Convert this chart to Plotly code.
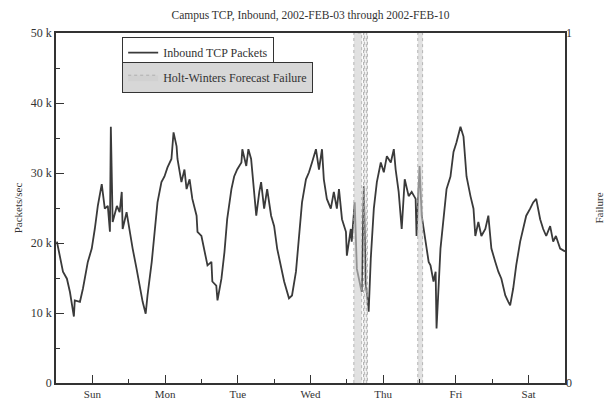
import pandas as pd
import plotly.graph_objects as go

# hours since 2002-02-03 00:00 and inbound TCP packets/sec (thousands)
hours = [0.3, 1.3, 2.3, 3.6, 4.6, 5.9, 6.2, 7.9, 8.9, 10.5, 11.8, 12.8, 13.8, 15.1, 16.1, 17.1,
         17.8, 18.1, 18.7, 20.1, 21.0, 21.7, 22.0, 23.3, 24.3, 25.3, 26.6, 27.6, 28.6, 29.6,
         30.2, 31.6, 32.5, 33.5, 34.8, 35.8, 36.8, 38.1, 38.8, 39.8, 40.1, 41.4, 42.4, 43.1,
         44.1, 45.0, 46.4, 46.7, 48.0, 49.0, 50.0, 51.3, 51.6, 52.9, 53.3, 54.6, 55.6, 56.5,
         57.9, 58.8, 59.8, 61.2, 61.5, 62.8, 63.5, 64.4, 65.4, 66.1, 67.1, 67.7, 68.7, 69.7,
         71.0, 72.0, 73.0, 74.3, 75.3, 76.9, 77.9, 79.2, 80.2, 81.2, 82.5, 83.5, 84.5, 85.8,
         86.8, 87.8, 88.4, 89.4, 90.7, 91.7, 92.7, 93.4, 94.4, 95.7, 96.0, 97.3, 97.6, 98.6,
         99.3, 100.6, 100.9, 101.6, 102.2, 103.2, 103.9, 104.9, 105.9, 107.2, 108.2, 109.2,
         110.5, 111.5, 112.1, 113.1, 114.1, 115.1, 116.4, 117.4, 118.7, 119.0, 120.0, 120.7,
         122.0, 123.0, 123.6, 124.6, 125.3, 125.6, 126.9, 127.9, 128.9, 130.2, 131.2, 132.2,
         133.5, 134.5, 135.5, 136.8, 137.8, 138.4, 139.4, 140.4, 141.7, 142.7, 143.7, 145.0,
         146.0, 147.0, 148.3, 149.3, 149.9, 150.9, 151.9, 153.2, 154.2, 155.2, 156.5, 157.5,
         158.5, 159.8, 160.8, 161.8, 163.1, 164.1, 165.0, 166.4, 168.0]
packets_k = [20.2, 18.2, 15.9, 14.9, 13.0, 9.5, 11.8, 11.6, 13.5, 17.3, 19.2, 22.0, 25.3, 28.4, 24.9, 25.3,
             21.6, 36.6, 23.0, 25.3, 24.4, 27.3, 22.0, 24.4, 21.6, 19.2, 16.3, 13.9, 11.6, 9.9,
             12.5, 17.3, 21.0, 25.8, 28.7, 29.5, 30.8, 32.0, 35.8, 33.8, 32.0, 28.7, 30.5, 27.7,
             29.1, 26.3, 23.9, 21.6, 21.0, 18.7, 16.8, 17.3, 14.5, 13.9, 11.8, 14.9, 18.7, 23.4,
             27.7, 29.5, 30.5, 31.5, 33.4, 31.0, 33.4, 32.0, 26.7, 23.9, 27.3, 28.7, 24.9, 27.7,
             23.9, 22.4, 19.2, 16.3, 14.5, 12.1, 12.5, 15.9, 21.0, 25.8, 29.1, 30.1, 31.5, 33.4,
             30.5, 33.4, 29.1, 26.3, 24.9, 27.3, 24.9, 27.7, 23.4, 21.6, 18.2, 22.0, 20.2, 25.8,
             16.3, 13.9, 13.0, 28.1, 14.5, 10.2, 17.8, 24.9, 28.7, 31.5, 30.1, 32.4,
             31.5, 33.4, 30.5, 27.3, 22.0, 29.1, 26.7, 27.3, 26.3, 21.0, 31.0, 23.9,
             20.2, 17.3, 16.8, 14.5, 15.9, 7.8, 19.2, 23.4, 27.7, 29.5, 33.0, 34.4,
             36.6, 35.2, 29.5, 26.7, 24.9, 21.0, 23.0, 21.0, 22.0, 23.9, 19.2, 17.3,
             15.9, 14.9, 12.5, 11.6, 11.1, 13.5, 16.8, 20.2, 22.0, 23.9, 24.9, 25.8,
             26.3, 23.4, 22.0, 21.0, 22.4, 20.2, 21.0, 19.2, 18.8]

# Holt-Winters forecast failure intervals (hours since start)
fail_start = [98.3, 101.5, 102.4, 119.4]
fail_end = [100.9, 101.9, 102.8, 121.0]

day_labels = ["Sun", "Mon", "Tue", "Wed", "Thu", "Fri", "Sat"]
y_tickvals = [0, 10000, 20000, 30000, 40000, 50000]
y_ticktext = ["0", "10 k", "20 k", "30 k", "40 k", "50 k"]

t0 = pd.Timestamp("2002-02-03 00:00")
times = [t0 + pd.Timedelta(hours=h) for h in hours]
values = [v * 1000 for v in packets_k]

fx, fy = [], []
for s, e in zip(fail_start, fail_end):
    ts, te = t0 + pd.Timedelta(hours=s), t0 + pd.Timedelta(hours=e)
    fx += [ts, ts, te, te, None]
    fy += [0, 1, 1, 0, None]

major_ticks = [t0 + pd.Timedelta(hours=12 + 24 * i) for i in range(7)]
minor_ticks = [t0 + pd.Timedelta(hours=24 * i) for i in range(1, 7)]

font = "Liberation Serif"
ink = "#333333"

fig = go.Figure()
fig.add_trace(go.Scatter(
    x=fx, y=fy, yaxis="y2", mode="lines", fill="toself",
    fillcolor="rgba(205,205,205,0.6)",
    line=dict(color="rgba(165,165,165,0.8)", width=1, dash="dot"),
    name="Holt-Winters Forecast Failure", legend="legend2", hoverinfo="skip"))
fig.add_trace(go.Scatter(
    x=times, y=values, mode="lines",
    line=dict(color="#3a3a3a", width=1.8),
    name="Inbound TCP Packets", legend="legend"))

fig.update_layout(
    width=607, height=400,
    margin=dict(l=56, r=42, t=33, b=17),
    paper_bgcolor="white", plot_bgcolor="white",
    font=dict(family=font, size=12, color=ink),
    title=dict(text="Campus TCP, Inbound, 2002-FEB-03 through 2002-FEB-10",
               x=0.5, xref="paper", y=0.962, yref="container",
               xanchor="center", yanchor="middle",
               font=dict(family=font, size=11.5, color=ink)),
    showlegend=True,
    legend=dict(x=0.13, y=0.988, xanchor="left", yanchor="top",
                bgcolor="white", bordercolor=ink, borderwidth=1,
                font=dict(family=font, size=12, color=ink),
                itemwidth=30, tracegroupgap=0),
    legend2=dict(x=0.13, y=0.918, xanchor="left", yanchor="top",
                 bgcolor="rgb(215,215,215)", bordercolor=ink, borderwidth=1,
                 font=dict(family=font, size=12, color=ink),
                 itemwidth=30),
    xaxis=dict(
        type="date", automargin=False,
        range=[t0, t0 + pd.Timedelta(days=7)],
        tickmode="array", tickvals=major_ticks, ticktext=day_labels,
        ticks="inside", ticklen=8, tickwidth=1, tickcolor=ink,
        minor=dict(tickmode="array", tickvals=minor_ticks, ticks="inside",
                   ticklen=4, tickwidth=1, tickcolor=ink, showgrid=False),
        showline=True, linecolor=ink, linewidth=1.5, mirror=True,
        showgrid=False, zeroline=False,
        tickfont=dict(family=font, size=11, color=ink),
    ),
    yaxis=dict(
        range=[0, 50000], automargin=False,
        tickmode="array", tickvals=y_tickvals, ticktext=y_ticktext,
        ticks="inside", ticklen=8, tickwidth=1, tickcolor=ink,
        minor=dict(dtick=5000, ticks="inside", ticklen=4, tickwidth=1,
                   tickcolor=ink, showgrid=False),
        showline=True, linecolor=ink, linewidth=1.5, mirror=True,
        showgrid=False, zeroline=False,
        title=dict(text="Packets/sec", standoff=6,
                   font=dict(family=font, size=11, color=ink)),
        tickfont=dict(family=font, size=12, color=ink),
    ),
    yaxis2=dict(
        overlaying="y", side="right", range=[0, 1], automargin=False,
        tickmode="array", tickvals=[0, 1], ticktext=["0", "1"],
        ticks="", showgrid=False, zeroline=False, showline=False,
        title=dict(text="Failure", standoff=24,
                   font=dict(family=font, size=11, color=ink)),
        tickfont=dict(family=font, size=12, color=ink),
    ),
)

fig.write_html("out.html")
